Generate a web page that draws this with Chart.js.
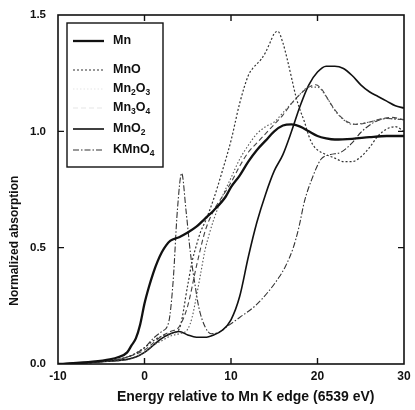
<!DOCTYPE html>
<html>
<head>
<meta charset="utf-8">
<script src="https://cdn.jsdelivr.net/npm/chart.js@4.4.1/dist/chart.umd.min.js"></script>
<style>
  html, body { margin: 0; padding: 0; background: #fff; }
  #wrap { width: 415px; height: 410px; position: relative; }
</style>
</head>
<body>
<div id="wrap"><canvas id="xanesChart"></canvas></div>
<script>
// energy relative to Mn K edge (eV) and normalized absorption
const mnE = [-10, -6, -4, -3, -2, -1.5, -1, -0.5, 0, 0.5, 1, 1.5, 2, 2.5, 3, 4, 5, 6, 7, 8, 9.4, 10, 11, 12, 13, 14, 15, 16, 17, 18, 19, 20, 21, 22, 24, 26, 28, 30];
const mnA = [0, 0.01, 0.02, 0.03, 0.05, 0.08, 0.11, 0.17, 0.26, 0.33, 0.39, 0.44, 0.48, 0.51, 0.53, 0.545, 0.565, 0.59, 0.625, 0.66, 0.72, 0.76, 0.81, 0.87, 0.92, 0.96, 1.0, 1.025, 1.03, 1.02, 1.0, 0.98, 0.97, 0.965, 0.968, 0.975, 0.98, 0.98];

const mnoE = [-10, -5, -2, 0, 1, 2, 3, 4, 5, 5.5, 6, 6.5, 7, 8, 9, 10, 11, 12, 12.5, 13, 13.5, 14, 14.5, 15, 15.4, 16, 16.5, 17, 17.5, 18, 18.5, 19, 19.5, 20, 21, 22, 23, 24, 25, 26, 27, 28, 29, 30];
const mnoA = [0, 0.01, 0.03, 0.07, 0.1, 0.12, 0.13, 0.15, 0.34, 0.44, 0.51, 0.57, 0.61, 0.71, 0.83, 0.96, 1.12, 1.24, 1.27, 1.29, 1.31, 1.34, 1.38, 1.42, 1.43, 1.38, 1.31, 1.23, 1.15, 1.09, 1.04, 0.98, 0.94, 0.92, 0.9, 0.885, 0.87, 0.87, 0.89, 0.93, 0.98, 1.01, 1.02, 1.0];

const mn2o3E = [-10, -5, -2, 0, 1, 2, 3, 4, 5, 5.5, 6, 6.5, 7, 7.5, 8, 9, 10, 11, 12, 13, 14, 15, 16, 17, 18, 19, 20, 21, 22, 23, 24, 26, 28, 30];
const mn2o3A = [0, 0.01, 0.02, 0.05, 0.08, 0.1, 0.12, 0.13, 0.15, 0.2, 0.29, 0.39, 0.49, 0.56, 0.62, 0.72, 0.8, 0.88, 0.94, 0.99, 1.02, 1.04, 1.08, 1.12, 1.16, 1.19, 1.19, 1.15, 1.09, 1.05, 1.03, 1.04, 1.055, 1.05];

const mn3o4E = [-10, -5, -2, 0, 1, 2, 3, 4, 5, 6, 7, 8, 9, 10, 11, 12, 13, 14, 15, 16, 17, 18, 19, 19.8, 20.5, 21.5, 22.5, 23.5, 24.5, 25.5, 26.5, 27.5, 28.5, 30];
const mn3o4A = [0, 0.01, 0.03, 0.06, 0.09, 0.12, 0.14, 0.16, 0.25, 0.42, 0.57, 0.66, 0.72, 0.78, 0.85, 0.91, 0.95, 0.99, 1.03, 1.07, 1.12, 1.16, 1.19, 1.2, 1.18, 1.12, 1.07, 1.04, 1.03, 1.035, 1.045, 1.055, 1.06, 1.05];

const mno2E = [-10, -5, -2, -1, 0, 1, 2, 3, 4, 5, 6, 7, 8, 9, 10, 11, 12, 13, 14, 15, 16, 17, 18, 19, 20, 21, 22, 23, 24, 25, 26, 27, 28, 29, 30];
const mno2A = [0, 0.01, 0.02, 0.03, 0.05, 0.08, 0.11, 0.13, 0.14, 0.125, 0.115, 0.115, 0.125, 0.145, 0.19, 0.29, 0.46, 0.61, 0.73, 0.83, 0.9, 1.0, 1.11, 1.2, 1.255, 1.28, 1.28, 1.27, 1.24, 1.2, 1.17, 1.15, 1.13, 1.11, 1.1];

const kmno4E = [-10, -5, -2, 0, 1, 2, 2.8, 3.3, 3.8, 4.3, 4.8, 5.3, 5.8, 6.3, 7, 7.7, 8.5, 9.5, 11, 12.8, 14.3, 15.5, 16.3, 17.2, 17.8, 18.5, 19.3, 20.4, 21.5, 22.7, 24, 25, 26.6, 28, 30];
const kmno4A = [0, 0.01, 0.03, 0.07, 0.11, 0.14, 0.18, 0.35, 0.66, 0.82, 0.66, 0.48, 0.35, 0.24, 0.16, 0.13, 0.135, 0.16, 0.2, 0.25, 0.31, 0.37, 0.42, 0.5, 0.58, 0.7, 0.79, 0.88, 0.9, 0.91, 0.95, 0.995, 1.04, 1.055, 1.05];

const xTickValues = [-10, 0, 10, 20, 30];
const yTickValues = [0, 0.5, 1.0, 1.5];
const xTitle = "Energy relative to Mn K edge (6539 eV)";
const yTitle = "Normalized absorption";

const pts = (xs, ys) => xs.map((v, i) => ({ x: v, y: ys[i] }));

const series = [
    { label: "Mn", data: pts(mnE, mnA), color: "#111", width: 2.3, dash: [] },
    { label: "MnO", data: pts(mnoE, mnoA), color: "#333", width: 1.2, dash: [2, 2] },
    { label: "Mn2O3", data: pts(mn2o3E, mn2o3A), color: "#555", width: 1.1, dash: [1.5, 2], legendColor: "#e6e6e6" },
    { label: "Mn3O4", data: pts(mn3o4E, mn3o4A), color: "#444", width: 1.1, dash: [5, 3], legendColor: "#e6e6e6" },
    { label: "MnO2", data: pts(mno2E, mno2A), color: "#111", width: 1.6, dash: [] },
    { label: "KMnO4", data: pts(kmno4E, kmno4A), color: "#333", width: 1.1, dash: [6, 2, 1.5, 2] },
];

const FONT = "'Liberation Sans', Arial, sans-serif";

// subscripted formula text, e.g. Mn2O3
function drawFormula(ctx, text, x, y) {
    let cx = x;
    for (const ch of text) {
        if (/[0-9]/.test(ch)) {
            ctx.font = "bold 8.5px " + FONT;
            ctx.fillText(ch, cx, y + 3.5);
        } else {
            ctx.font = "bold 12.5px " + FONT;
            ctx.fillText(ch, cx, y);
        }
        cx += ctx.measureText(ch).width;
    }
}

const framePlugin = {
    id: "frame",
    afterDatasetsDraw(chart) {
        const { ctx, chartArea: a, scales } = chart;
        const xs = scales.x, ys = scales.y;
        ctx.save();
        ctx.strokeStyle = "#111";
        ctx.lineWidth = 1.6;
        ctx.setLineDash([]);
        ctx.strokeRect(a.left, a.top, a.right - a.left, a.bottom - a.top);

        // inward ticks
        ctx.lineWidth = 1.4;
        ctx.beginPath();
        [0, 10, 20].forEach(v => {
            const px = xs.getPixelForValue(v);
            ctx.moveTo(px, a.bottom); ctx.lineTo(px, a.bottom - 6);
            ctx.moveTo(px, a.top); ctx.lineTo(px, a.top + 6);
        });
        [0.5, 1.0].forEach(v => {
            const py = ys.getPixelForValue(v);
            ctx.moveTo(a.left, py); ctx.lineTo(a.left + 6, py);
            ctx.moveTo(a.right, py); ctx.lineTo(a.right - 6, py);
        });
        ctx.stroke();

        // legend box
        const lx = a.left + 9, ly = a.top + 8, lw = 96, lh = 144;
        ctx.fillStyle = "#fff";
        ctx.fillRect(lx, ly, lw, lh);
        ctx.lineWidth = 1.4;
        ctx.strokeRect(lx, ly, lw, lh);
        const rows = [18, 47, 66, 85, 106, 127];
        ctx.textBaseline = "middle";
        ctx.textAlign = "left";
        chart.data.datasets.forEach((ds, i) => {
            const ry = ly + rows[i];
            ctx.beginPath();
            ctx.strokeStyle = ds.legendColor || ds.borderColor;
            ctx.lineWidth = ds.borderWidth;
            ctx.setLineDash(ds.borderDash || []);
            ctx.moveTo(lx + 6, ry);
            ctx.lineTo(lx + 37, ry);
            ctx.stroke();
            ctx.setLineDash([]);
            ctx.fillStyle = "#111";
            drawFormula(ctx, ds.label, lx + 46, ry);
        });

        // axis titles, both sit a little off-centre in the figure
        ctx.fillStyle = "#111";
        ctx.textAlign = "center";
        ctx.font = "bold 14px " + FONT;
        ctx.fillText(xTitle, xs.getPixelForValue(11.7), a.bottom + 33);
        ctx.translate(15, ys.getPixelForValue(0.53));
        ctx.rotate(-Math.PI / 2);
        ctx.font = "bold 12px " + FONT;
        ctx.fillText(yTitle, 0, 0);
        ctx.restore();
    },
};

Chart.defaults.font.family = FONT;
Chart.defaults.font.weight = "bold";
Chart.defaults.font.size = 11;
Chart.defaults.color = "#111";

new Chart(document.getElementById("xanesChart"), {
    type: "line",
    data: {
        datasets: series.map(s => ({
            label: s.label,
            data: s.data,
            borderColor: s.color,
            borderWidth: s.width,
            borderDash: s.dash,
            legendColor: s.legendColor,
            pointRadius: 0,
            fill: false,
            cubicInterpolationMode: "monotone",
        })),
    },
    options: {
        responsive: true,
        maintainAspectRatio: false,
        animation: false,
        layout: { padding: { top: 15, right: 11, left: 0, bottom: 0 } },
        plugins: { legend: { display: false }, tooltip: { enabled: false } },
        scales: {
            x: {
                type: "linear",
                min: -10,
                max: 30,
                afterBuildTicks: s => { s.ticks = xTickValues.map(v => ({ value: v })); },
                afterFit: s => { s.height = 46; s.paddingLeft = 0; s.paddingRight = 0; },
                grid: { display: false, drawTicks: false },
                border: { display: false },
                ticks: { padding: 5, maxRotation: 0, font: { size: 12, weight: "bold" } },
            },
            y: {
                min: 0,
                max: 1.5,
                afterBuildTicks: s => { s.ticks = yTickValues.map(v => ({ value: v })); },
                afterFit: s => { s.width = 58; s.paddingTop = 0; s.paddingBottom = 0; },
                grid: { display: false, drawTicks: false },
                border: { display: false },
                ticks: { padding: 12, callback: v => v.toFixed(1), font: { size: 11.5, weight: "bold" } },
            },
        },
    },
    plugins: [framePlugin],
});
</script>
</body>
</html>
